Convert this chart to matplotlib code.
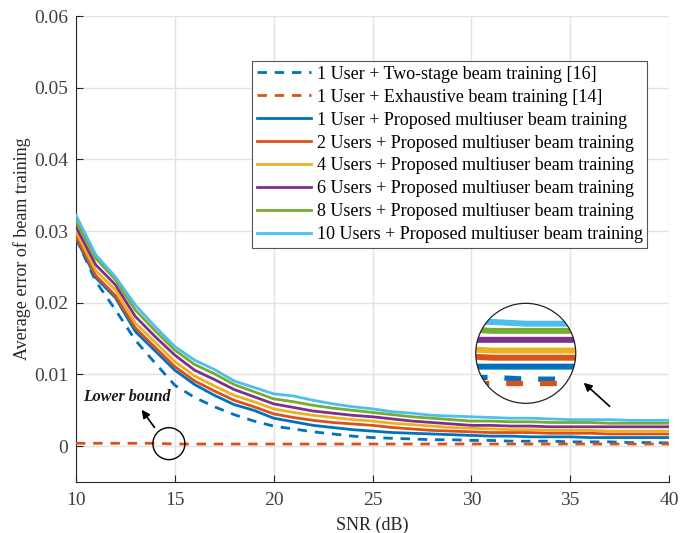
import numpy as np
import matplotlib
matplotlib.use('Agg')
import matplotlib.pyplot as plt
from matplotlib.patches import Circle, Ellipse

plt.rcParams['font.family'] = ['Liberation Serif', 'DejaVu Serif']

snr = np.arange(10, 41)

# one value per dB
two_stage_1u = [0.0290, 0.0230, 0.0190, 0.0148, 0.0116, 0.0085, 0.0068, 0.0055, 0.0044, 0.0035,
                0.0028, 0.0024, 0.0020, 0.0017, 0.0014, 0.0012, 0.0011, 0.0010, 0.0009, 0.0009,
                0.0008, 0.0008, 0.0007, 0.0007, 0.0007, 0.0006, 0.0006, 0.0006, 0.0005, 0.0005, 0.00045]
exhaustive_1u = [0.0004, 0.0004, 0.0004, 0.0004, 0.0004, 0.0003, 0.0003, 0.0003, 0.0003, 0.0003,
                 0.0003, 0.0003, 0.0003, 0.0003, 0.0003, 0.0003, 0.0003, 0.0003, 0.0003, 0.0003,
                 0.0003, 0.0003, 0.0003, 0.0003, 0.0003, 0.0003, 0.0003, 0.0003, 0.0003, 0.0003, 0.0003]
prop_1u = [0.0290, 0.0235, 0.0207, 0.0160, 0.0133, 0.0106, 0.0086, 0.0071, 0.0058, 0.0050,
           0.0039, 0.0034, 0.0029, 0.0026, 0.0023, 0.0021, 0.0019, 0.0018, 0.0017, 0.0016,
           0.0015, 0.0014, 0.0014, 0.0013, 0.0013, 0.0013, 0.0012, 0.0012, 0.0012, 0.0012, 0.0012]
prop_2u = [0.0293, 0.0238, 0.0210, 0.0165, 0.0138, 0.0111, 0.0091, 0.0077, 0.0064, 0.0055,
           0.0045, 0.0040, 0.0036, 0.0033, 0.0031, 0.0029, 0.0026, 0.0024, 0.0022, 0.0021,
           0.0020, 0.0019, 0.0019, 0.0019, 0.0018, 0.0018, 0.0018, 0.0017, 0.0017, 0.0017, 0.0017]
prop_4u = [0.0300, 0.0245, 0.0218, 0.0172, 0.0145, 0.0118, 0.0098, 0.0084, 0.0071, 0.0062,
           0.0052, 0.0047, 0.0043, 0.0040, 0.0037, 0.0035, 0.0032, 0.0030, 0.0028, 0.0026,
           0.0025, 0.0024, 0.0023, 0.0023, 0.0022, 0.0022, 0.0022, 0.0021, 0.0021, 0.0021, 0.0021]
prop_6u = [0.0306, 0.0253, 0.0225, 0.0181, 0.0153, 0.0127, 0.0106, 0.0093, 0.0079, 0.0069,
           0.0059, 0.0054, 0.0049, 0.0046, 0.0043, 0.0041, 0.0038, 0.0035, 0.0033, 0.0031,
           0.0029, 0.0029, 0.0028, 0.0028, 0.0027, 0.0027, 0.0027, 0.0027, 0.0027, 0.0027, 0.0027]
prop_8u = [0.0314, 0.0262, 0.0232, 0.0190, 0.0161, 0.0134, 0.0114, 0.0101, 0.0086, 0.0076,
           0.0066, 0.0062, 0.0057, 0.0053, 0.0050, 0.0047, 0.0044, 0.0041, 0.0039, 0.0037,
           0.0035, 0.0035, 0.0034, 0.0034, 0.0033, 0.0033, 0.0033, 0.0032, 0.0032, 0.0032, 0.0032]
prop_10u = [0.0322, 0.0267, 0.0236, 0.0197, 0.0167, 0.0139, 0.0120, 0.0107, 0.0091, 0.0082,
            0.0073, 0.0070, 0.0064, 0.0059, 0.0055, 0.0052, 0.0048, 0.0046, 0.0043, 0.0042,
            0.0041, 0.0040, 0.0039, 0.0039, 0.0038, 0.0037, 0.0037, 0.0037, 0.0036, 0.0036, 0.0036]

labels = ['1 User + Two-stage beam training [16]',
          '1 User + Exhaustive beam training [14]',
          '1 User + Proposed multiuser beam training',
          '2 Users + Proposed multiuser beam training',
          '4 Users + Proposed multiuser beam training',
          '6 Users + Proposed multiuser beam training',
          '8 Users + Proposed multiuser beam training',
          '10 Users + Proposed multiuser beam training']
series = [two_stage_1u, exhaustive_1u, prop_1u, prop_2u, prop_4u, prop_6u, prop_8u, prop_10u]
colors = ['#0072BD', '#D95319', '#0072BD', '#D95319', '#EDB120', '#7E2F8E', '#77AC30', '#4DBEEE']
dashed = [True, True, False, False, False, False, False, False]

yticks = [0, 0.01, 0.02, 0.03, 0.04, 0.05, 0.06]
ytick_labels = ['0', '0.01', '0.02', '0.03', '0.04', '0.05', '0.06']
xticks = [10, 15, 20, 25, 30, 35, 40]

axis_col = '#262626'
fig = plt.figure(figsize=(6.94, 5.33), dpi=100)
ax = fig.add_axes([0.1095, 0.0957, 0.8545, 0.874])

for vals, col, lab, dsh in zip(series, colors, labels, dashed):
    if dsh:
        ax.plot(snr, vals, color=col, lw=2.0, dashes=(3.4, 2.8), label=lab, zorder=3)
    else:
        ax.plot(snr, vals, color=col, lw=2.0, label=lab, zorder=3)

ax.set_xlim(10, 40)
ax.set_ylim(-0.005, 0.06)
ax.set_xticks(xticks)
ax.set_yticks(yticks)
ax.set_yticklabels(ytick_labels)
ax.grid(True, color='#e3e3e3', lw=1.0)
ax.set_axisbelow(True)
for side in ['top', 'right']:
    ax.spines[side].set_visible(False)
for side in ['left', 'bottom']:
    ax.spines[side].set_color(axis_col)
    ax.spines[side].set_linewidth(0.8)
ax.tick_params(direction='in', length=5, width=0.8, color=axis_col, labelcolor='#404040',
               labelsize=14)
ax.tick_params(axis='x', pad=7)
ax.tick_params(axis='y', pad=5.5)
ax.set_xlabel('SNR (dB)', fontsize=13, color=axis_col, labelpad=6)
ax.set_ylabel('Average error of beam training', fontsize=13, color=axis_col, labelpad=2)

leg = ax.legend(loc='upper right', bbox_to_anchor=(0.963, 0.9034), fontsize=13,
                handlelength=3.0, handletextpad=0.3, labelspacing=0.33, borderpad=0.25,
                borderaxespad=0, fancybox=False, framealpha=1, edgecolor='#555555')
leg.get_frame().set_linewidth(0.8)

# lower bound marker
ax.add_patch(Ellipse((14.70, 0.00035), 1.62, 0.00446, fill=False, ec='k', lw=1.0, zorder=5))
ax.annotate('', xy=(13.24, 0.0054), xytext=(14.05, 0.0023),
            arrowprops=dict(arrowstyle='-|>', color='k', lw=1.2, mutation_scale=12), zorder=5)
ax.text(12.58, 0.0069, 'Lower bound', fontsize=11.5, fontweight='bold', fontstyle='italic',
        ha='center', va='center', color='#1a1a1a')

# magnified view
ax.annotate('', xy=(35.58, 0.0091), xytext=(37.1, 0.0053),
            arrowprops=dict(arrowstyle='-|>', color='k', lw=1.2, mutation_scale=12), zorder=5)

ax_in = fig.add_axes([0.6855, 0.2433, 0.1441, 0.1876])
ax_in.axis('off')
bg = Circle((0.5, 0.5), 0.5, transform=ax_in.transAxes, fc='white', ec='none', zorder=0)
ax_in.add_patch(bg)
for vals, col, dsh in zip(series, colors, dashed):
    if dsh:
        ln, = ax_in.plot(snr, vals, color=col, lw=3.8, dashes=(3.2, 3.2), zorder=2)
    else:
        ln, = ax_in.plot(snr, vals, color=col, lw=4.3, zorder=2)
    ln.set_clip_path(Circle((0.5, 0.5), 0.5, transform=ax_in.transAxes))
ax_in.set_xlim(36.5, 39.5)
ax_in.set_ylim(-0.00085, 0.00474)
ax_in.add_patch(Circle((0.5, 0.5), 0.5, transform=ax_in.transAxes, fill=False, ec='#222222',
                       lw=0.9, zorder=4, clip_on=False))

fig.savefig('out.png', dpi=100)
